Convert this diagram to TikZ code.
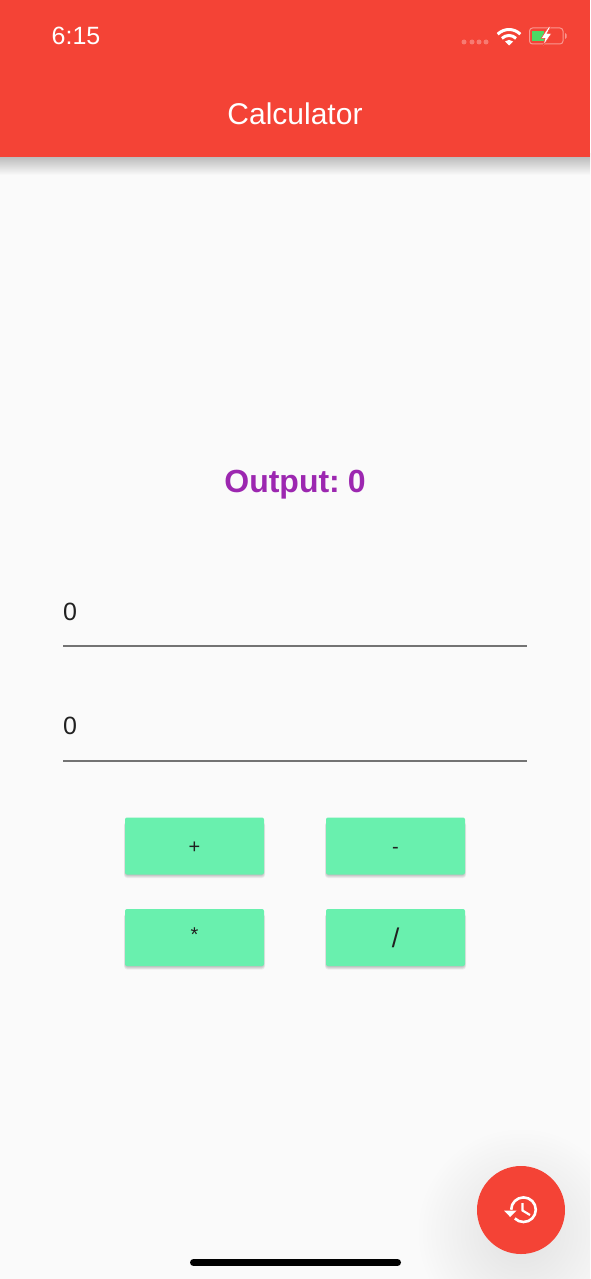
\documentclass[tikz,border=0pt]{standalone}
\usepackage{fontspec}
\setmainfont{Liberation Sans}
\usetikzlibrary{calc}
\definecolor{barred}{HTML}{F44336}
\definecolor{pagebg}{HTML}{FAFAFA}
\definecolor{mintbtn}{HTML}{69F0AE}
\definecolor{outpurple}{HTML}{9C27B0}
\definecolor{inktext}{HTML}{212121}
\definecolor{batgreen}{HTML}{4CD964}
\newcommand{\pxfont}[1]{\fontsize{#1}{#1}\selectfont}
\tikzset{
	calcbtn/.style={fill=mintbtn,rounded corners=2pt,minimum width=139pt,minimum height=57pt,inner sep=0pt,text height=14pt,text depth=0pt,text=inktext,font=\pxfont{20}},
	numtext/.style={anchor=west,inner sep=0pt,text=inktext,font=\pxfont{25}},
	underline/.style={line width=1.3pt,color=black!55},
	statusdot/.style={circle,fill=white,opacity=0.3,inner sep=0pt,minimum size=5pt},
	wifiarc/.style={white,line width=3pt}
}
\begin{document}
\begin{tikzpicture}[x=1pt,y=-1pt]
	\useasboundingbox (0,0) rectangle (590,1279);
	\fill[pagebg] (0,0) rectangle (590,1279);

	\begin{scope}
		\clip (0,0) rectangle (590,1279);
		\shade[inner color=black!10!pagebg,outer color=pagebg] (521,1232) circle (105);
		\shade[top color=black!30!pagebg,bottom color=pagebg] (0,153) rectangle (590,175);
	\end{scope}

	\fill[barred] (0,0) rectangle (590,157);
	\node[white,font=\pxfont{25}] (clock) at (76,36) {6:15};
	\node[white,font=\pxfont{30}] (apptitle) at (295,114) {Calculator};

	\foreach \x/\name in {464/a,472/b,479/c,486/d}
		\node[statusdot] (dot\name) at (\x,42) {};

	\draw[wifiarc] (497.7,34.2) arc[start angle=225,end angle=315,radius=16];
	\draw[wifiarc] (501.9,38.4) arc[start angle=225,end angle=315,radius=10];
	\fill[white] (509,45.5) -- (505,41.5) arc[start angle=225,end angle=315,radius=5.66] -- cycle;

	\draw[white,opacity=0.45,line width=1pt,rounded corners=3pt] (529.5,28) rectangle (563,44);
	\fill[white,opacity=0.45] (565,33) -- (566.5,34.5) -- (566.5,37.5) -- (565,39) -- cycle;
	\fill[batgreen] (532,31) rectangle (544,41);
	\fill[white,draw=barred,line width=0.5pt] (548.5,27) -- (541,38.5) -- (545,38.5) -- (543,46) -- (551.5,33.5) -- (547,33.5) -- (550.5,27) -- cycle;

	\node[font=\bfseries\pxfont{32},text=outpurple] (outputlabel) at (295,485) {\spaceskip=5pt Output: 0};

	\node[numtext] (firstnum) at (63,612) {0};
	\draw[underline] (63,646) -- (527,646);
	\node[numtext] (secondnum) at (63,726) {0};
	\draw[underline] (63,761) -- (527,761);

	\foreach \cx/\cy/\lab/\name in {194.5/846/+/add,395.5/846/-/sub,194.5/937.5/\raisebox{3pt}{*}/mul,395.5/937.5/{\pxfont{27}\raisebox{-3pt}{/}}/div}{
		\foreach \k in {1,...,5}
			\fill[black,opacity=0.05,rounded corners=3pt] ($(\cx,\cy)+(-69-\k*0.3,-24)$) rectangle ($(\cx,\cy)+(69+\k*0.3,28.5+\k*0.7)$);
		\node[calcbtn] (\name) at (\cx,\cy) {\lab};
	}

	\node[circle,fill=barred,minimum size=88pt,inner sep=0pt] (histfab) at (521,1210) {};
	\draw[white,line width=2.6pt] (511.2,1209.7) arc[start angle=180,end angle=495,radius=12.3];
	\fill[white] (504,1210.5) -- (516.5,1210.5) -- (510.2,1217) -- cycle;
	\draw[white,line width=2.2pt] (522.5,1203) -- (522.5,1210.5) -- (530,1215);

	\draw[black,line width=7pt,line cap=round] (193.5,1262.5) -- (397.5,1262.5);
\end{tikzpicture}
\end{document}
